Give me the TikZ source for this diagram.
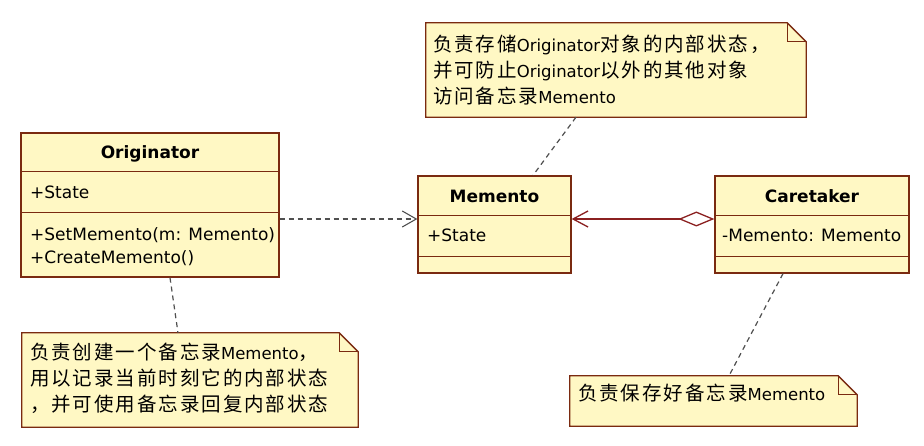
\documentclass[tikz,border=0pt]{standalone}
\usepackage{fontspec}
\setmainfont{DejaVu Sans}
\newfontfamily\cjk[LetterSpace=10]{Noto Sans CJK SC}
\usetikzlibrary{arrows.meta, positioning, calc, backgrounds}

\definecolor{umlfill}{RGB}{255, 248, 196}
\definecolor{umlline}{RGB}{122, 42, 16}
\definecolor{assocred}{RGB}{139, 32, 32}
\definecolor{dashgray}{RGB}{80, 80, 80}

% chinese runs inside the notes
\newcommand{\zh}[1]{{\fontsize{19.5}{26}\selectfont\cjk #1}}

% note with folded corner, drawn behind the named node
\newcommand{\notefold}[1]{%
  \begin{scope}[on background layer]
    \filldraw[notebody] (#1.north west) -- ([xshift=-19pt]#1.north east)
      -- ([yshift=-19pt]#1.north east) -- (#1.south east) -- (#1.south west) -- cycle;
    \draw[notebody, fill=none] ([xshift=-19pt]#1.north east) |- ([yshift=-19pt]#1.north east);
  \end{scope}}

\begin{document}
\begin{tikzpicture}[x=1pt, y=-1pt,
  classbox/.style={draw=umlline, fill=umlfill, line width=1.3pt, inner sep=0pt},
  sepline/.style={draw=umlline, line width=1.3pt},
  classname/.style={anchor=base, inner sep=0pt, font=\fontsize{17}{20}\selectfont\bfseries},
  member/.style={anchor=base west, inner sep=0pt, font=\fontsize{17}{20}\selectfont},
  noteshape/.style={inner sep=0pt},
  notebody/.style={draw=umlline, fill=umlfill, line width=1.3pt, line join=miter},
  notetext/.style={anchor=north west, inner sep=0pt, align=left, font=\fontsize{16.5}{26}\selectfont},
  notelink/.style={draw=dashgray, line width=1.2pt, dash pattern=on 5pt off 4pt},
  depline/.style={draw=dashgray, line width=1.1pt, dash pattern=on 5pt off 4pt,
    -{Straight Barb[length=14pt, width=16pt, line width=1.1pt]}},
  assocline/.style={draw=assocred, line width=1.3pt,
    {Straight Barb[length=15pt, width=16pt]}-{Diamond[open, length=36pt, width=15pt]}}
]
  \begin{scope}[on background layer]
    \fill[white] (0,0) rectangle (924,446);
  \end{scope}
  \useasboundingbox (0,0) rectangle (924,446);

  % Classes
  \node[classbox, minimum width=258pt, minimum height=144pt] (orig) at (150,205) {};
  \node[classbox, minimum width=153pt, minimum height=97pt] (memento) at (494.5,224.5) {};
  \node[classbox, minimum width=194pt, minimum height=97pt] (caretaker) at (812,224.5) {};

  \foreach \n/\a/\b in {orig/39/80, memento/40/81, caretaker/40/81} {
    \draw[sepline] ([yshift=-\a pt]\n.north west) -- ([yshift=-\a pt]\n.north east);
    \draw[sepline] ([yshift=-\b pt]\n.north west) -- ([yshift=-\b pt]\n.north east);
  }

  \node[classname] (orig-name) at (150,159) {Originator};
  \node[member] (orig-state) at (30,199) {+State};
  \node[member] (orig-set) at (30,241) {+SetMemento(m: Memento)};
  \node[member] (orig-create) at (30,264) {+CreateMemento()};

  \node[classname] (memento-name) at (494.5,203) {Memento};
  \node[member] (memento-state) at (427,242) {+State};

  \node[classname] (caretaker-name) at (812,203) {Caretaker};
  \node[member] (caretaker-memento) at (722,242) {-Memento: Memento};

  % Notes
  \node[noteshape, minimum width=380pt, minimum height=94pt] (topnote) at (616,70) {};
  \notefold{topnote}
  \node[notetext, below right=12pt and 7pt of topnote.north west] (topnote-text) {%
    \zh{负责存储}Originator\zh{对象的内部状态，}\\
    \zh{并可防止}Originator\zh{以外的其他对象}\\
    \zh{访问备忘录}Memento};

  \node[noteshape, minimum width=336pt, minimum height=94pt] (leftnote) at (190,380) {};
  \notefold{leftnote}
  \node[notetext, below right=10pt and 8pt of leftnote.north west] (leftnote-text) {%
    \zh{负责创建一个备忘录}Memento\zh{，}\\
    \zh{用以记录当前时刻它的内部状态}\\
    \zh{，并可使用备忘录回复内部状态}};

  \node[noteshape, minimum width=287pt, minimum height=50pt] (rightnote) at (713.5,401) {};
  \notefold{rightnote}
  \node[notetext, below right=8pt and 8pt of rightnote.north west] (rightnote-text) {%
    \zh{负责保存好备忘录}Memento};

  % Connectors
  \coordinate (dep-in) at ([yshift=5.5pt]memento.west);
  \draw[depline] (orig.east |- dep-in) -- (dep-in);
  \draw[assocline] ([yshift=5.5pt]memento.east) -- ([yshift=5.5pt]caretaker.west);

  \draw[notelink] ([xshift=-40pt]topnote.south) -- ([xshift=38.5pt]memento.north);
  \draw[notelink] ([xshift=20pt]orig.south) -- ([xshift=-12pt]leftnote.north);
  \draw[notelink] ([xshift=-29pt]caretaker.south) -- ([xshift=15.5pt]rightnote.north);
\end{tikzpicture}
\end{document}
